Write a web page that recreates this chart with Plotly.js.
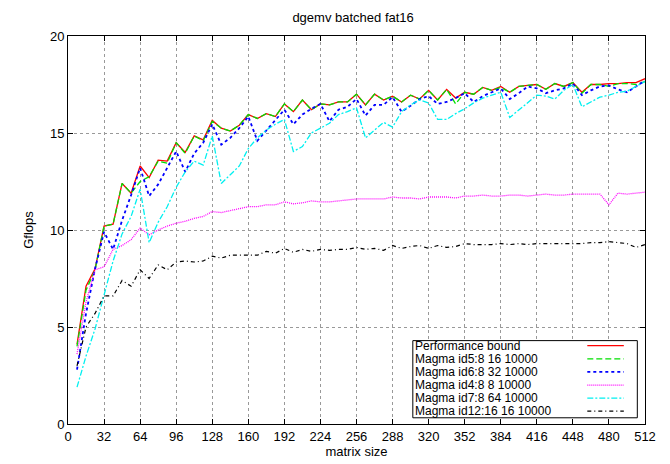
<!DOCTYPE html>
<html>
<head>
<meta charset="utf-8">
<script src="https://cdn.plot.ly/plotly-3.0.1.min.js"></script>
<style>html,body{margin:0;padding:0;background:#fff;}#chart{width:670px;height:464px;}</style>
</head>
<body>
<div id="chart"></div>
<script>
const sizes = [8,16,24,32,40,48,56,64,72,80,88,96,104,112,120,128,136,144,152,160,168,176,184,192,200,208,216,224,232,240,248,256,264,272,280,288,296,304,312,320,328,336,344,352,360,368,376,384,392,400,408,416,424,432,440,448,456,464,472,480,488,496,504,512];

const perfBound = [4.1,7.1,8.0,10.2,10.3,12.4,11.9,13.3,12.7,13.6,13.55,14.5,14.0,14.85,14.65,15.65,15.25,15.1,15.4,15.95,15.75,16.0,15.85,16.5,16.1,16.7,16.2,16.5,16.45,16.6,16.6,17.0,16.45,17.0,16.7,16.9,16.6,16.95,16.75,17.2,16.7,17.25,16.8,17.1,17.0,17.35,17.2,17.4,17.1,17.4,17.45,17.5,17.25,17.55,17.4,17.6,17.1,17.5,17.5,17.55,17.55,17.6,17.6,17.8];

const id5 = [4.0,6.9,7.95,10.2,10.3,12.4,11.9,12.5,12.75,13.55,13.45,14.5,13.95,14.85,14.6,15.6,15.25,15.1,15.4,15.95,15.75,16.0,15.85,16.5,16.1,16.7,16.2,16.5,16.45,16.6,16.6,17.0,16.45,17.0,16.7,16.9,16.6,16.95,16.75,17.2,16.7,17.25,16.5,17.1,17.0,17.35,17.2,17.35,17.1,17.4,17.45,17.5,17.25,17.55,17.4,17.6,17.05,17.5,17.5,17.4,17.55,17.55,17.5,17.65];

const id6 = [2.8,5.7,8.0,9.9,9.0,10.5,11.8,13.2,11.75,12.35,13.2,14.05,13.0,13.95,14.5,15.45,14.4,14.75,15.25,15.85,14.6,15.15,15.7,16.2,15.45,15.95,16.25,16.5,15.6,16.2,16.35,16.75,15.9,16.45,16.45,16.85,16.1,16.4,16.75,16.9,16.5,16.6,16.8,17.05,16.6,16.9,17.1,17.3,16.75,17.05,17.4,17.3,17.05,17.2,17.3,17.55,16.95,17.2,17.4,17.45,17.25,17.1,17.4,17.7];

const id4 = [3.6,6.3,7.95,8.1,9.0,9.2,9.5,10.1,9.75,10.0,10.2,10.35,10.45,10.6,10.7,10.95,10.9,11.0,11.1,11.2,11.2,11.3,11.3,11.45,11.35,11.4,11.5,11.45,11.45,11.5,11.55,11.6,11.6,11.6,11.6,11.7,11.65,11.65,11.6,11.7,11.7,11.7,11.65,11.75,11.75,11.8,11.75,11.75,11.8,11.8,11.75,11.8,11.85,11.8,11.8,11.85,11.85,11.85,11.85,11.3,11.9,11.85,11.9,11.95];

const id7 = [1.9,3.5,4.9,6.6,8.4,9.8,10.7,12.1,9.35,10.4,11.2,12.2,13.0,13.55,13.35,14.85,12.4,12.85,13.3,14.2,14.75,15.15,15.45,15.7,14.05,14.3,15.0,15.25,15.5,15.95,16.1,16.3,14.75,15.15,15.55,15.3,16.1,16.45,16.7,16.55,15.7,15.7,16.0,16.25,16.55,16.8,16.95,17.1,15.8,16.2,16.6,16.95,16.9,16.75,17.2,17.5,16.35,16.6,16.85,16.95,17.1,17.15,17.4,17.65];

const id12 = [3.0,5.0,5.7,6.6,6.6,7.4,7.1,7.95,7.5,8.2,7.95,8.35,8.4,8.35,8.4,8.65,8.55,8.7,8.7,8.7,8.7,8.9,8.8,9.05,8.85,9.0,8.9,9.0,8.95,9.0,9.0,9.1,9.0,9.05,8.95,9.2,9.05,9.15,9.2,9.05,9.2,9.1,9.15,9.3,9.25,9.25,9.25,9.3,9.25,9.3,9.25,9.3,9.3,9.3,9.3,9.3,9.3,9.35,9.35,9.4,9.35,9.3,9.1,9.25];

const seriesNames = ["Performance bound","Magma id5:8 16 10000","Magma id6:8 32 10000","Magma id4:8 8 10000","Magma id7:8 64 10000","Magma id12:16 16 10000"];
const seriesValues = [perfBound, id5, id6, id4, id7, id12];
const seriesColors = ["#ff0000","#00e000","#0000ff","#ff00ff","#00f0f0","#000000"];
const seriesDash = ["solid","6px,3px","3px,3px","1px,1px","6px,2px,2px,2px","4px,3px,1px,3px"];
const seriesWidth = [1.3,1.3,1.8,1.3,1.3,1.2];

const xTicks = [0,32,64,96,128,160,192,224,256,288,320,352,384,416,448,480,512];
const yTicks = [0,5,10,15,20];

const FONT = 'Liberation Sans, Arial, sans-serif';

const traces = seriesNames.map((n,i)=>({
  type:'scatter', mode:'lines', name:n, x:sizes, y:seriesValues[i],
  line:{color:seriesColors[i], width:seriesWidth[i], dash:seriesDash[i]},
  showlegend:false, hoverinfo:'skip'
}));

// gnuplot-style legend: text left, sample right
const legX0 = 0.5976, legX1 = 0.9867, legY0 = 0.016, legY1 = 0.2149;
const rowY = [0.2021,0.1680,0.1345,0.1000,0.0665,0.0330];
const shapes = [{type:'rect', xref:'paper', yref:'paper', x0:legX0, x1:legX1, y0:legY0, y1:legY1,
  line:{color:'#000', width:1}, fillcolor:'#fff', layer:'above'}];
const annotations = [];
seriesNames.forEach((n,i)=>{
  annotations.push({xref:'paper', yref:'paper', x:0.6000, y:rowY[i], text:n, showarrow:false,
    xanchor:'left', yanchor:'middle', borderpad:0, font:{family:FONT, size:12, color:'#000'}});
  shapes.push({type:'line', xref:'paper', yref:'paper', x0:0.9, x1:0.9633, y0:rowY[i], y1:rowY[i],
    line:{color:seriesColors[i], width:seriesWidth[i], dash:seriesDash[i]}, layer:'above'});
});

const axisCommon = {
  showline:true, linecolor:'#000', linewidth:1, mirror:'allticks',
  ticks:'inside', ticklen:5, tickcolor:'#000', tickwidth:1,
  showgrid:true, gridcolor:'#999', griddash:'dot', gridwidth:1,
  zeroline:false, tickfont:{family:FONT, size:13, color:'#000'}
};

const layout = {
  width:670, height:464,
  margin:{l:68, r:25, t:36, b:40},
  paper_bgcolor:'#fff', plot_bgcolor:'#fff',
  title:{text:'dgemv batched fat16', x:0.527, xanchor:'center', y:0.962, yanchor:'middle',
    font:{family:FONT, size:13, color:'#000'}},
  xaxis:Object.assign({}, axisCommon, {range:[0,512], tickvals:xTicks, ticktext:xTicks.map(String),
    title:{text:'matrix size', standoff:1, font:{family:FONT, size:13, color:'#000'}}}),
  yaxis:Object.assign({}, axisCommon, {range:[0,20], tickvals:yTicks, ticktext:yTicks.map(String),
    title:{text:'Gflops', standoff:13, font:{family:FONT, size:13, color:'#000'}}}),
  shapes:shapes, annotations:annotations, showlegend:false
};

Plotly.newPlot('chart', traces, layout, {staticPlot:true, displayModeBar:false});
</script>
</body>
</html>
